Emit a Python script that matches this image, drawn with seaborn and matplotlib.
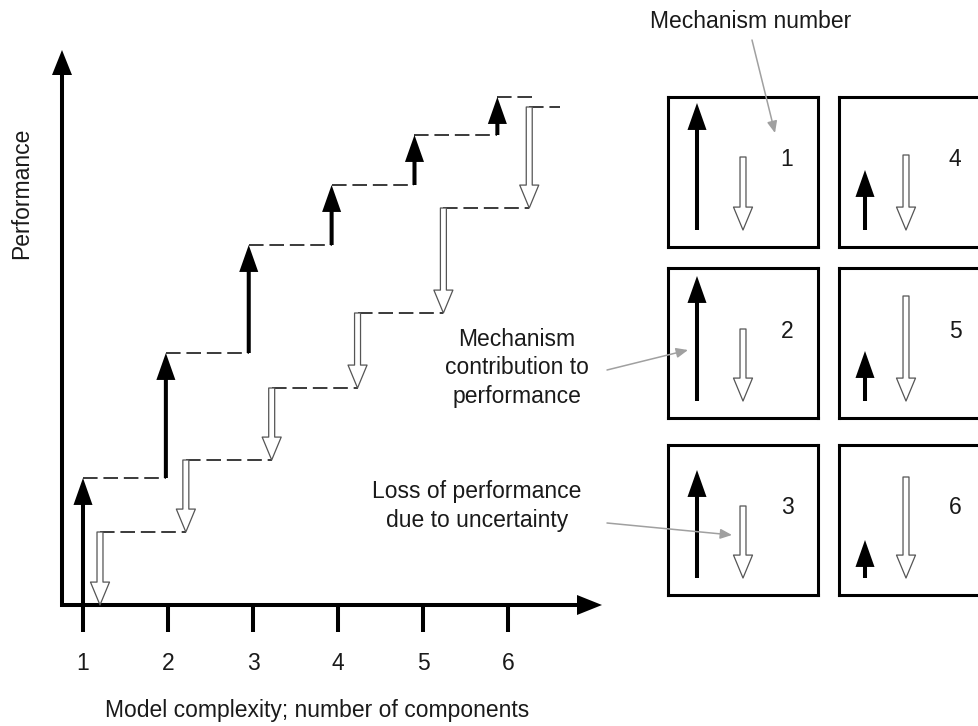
import numpy as np
import pandas as pd
import seaborn as sns
import matplotlib
matplotlib.use("Agg")
import matplotlib.pyplot as plt
from matplotlib.patches import FancyArrowPatch, ArrowStyle

# ---------------- data ----------------
components = [1, 2, 3, 4, 5, 6]
tick_labels = ["1", "2", "3", "4", "5", "6"]
gain = [1.27, 1.25, 1.08, 0.60, 0.50, 0.38]   # mechanism contribution to performance
loss = [0.73, 0.72, 0.72, 0.75, 1.05, 1.01]   # loss of performance due to uncertainty
mechanisms = [1, 2, 3, 4, 5, 6]

# ---------------- style ----------------
sns.set_theme(style="white")
plt.rcParams["font.family"] = ["Liberation Sans", "DejaVu Sans"]
FS = 16.5
TXT = "#1a1a1a"
W, H = 979, 726
fig = plt.figure(figsize=(W / 100, H / 100), dpi=100)


def rect(l, t, w, h):
    return [l / W, 1 - (t + h) / H, w / W, h / H]


BLACK = ArrowStyle.Simple(head_length=19.4, head_width=13.7, tail_width=2.9)
WHITE = ArrowStyle.Simple(head_length=16.5, head_width=13.7, tail_width=4.3)
AXIS = ArrowStyle.Simple(head_length=18.0, head_width=14.4, tail_width=2.9)


def arrow(ax, p0, p1, style, fc, ec="none", lw=0.0, z=3):
    ax.add_patch(FancyArrowPatch(p0, p1, arrowstyle=style, mutation_scale=1,
                                 fc=fc, ec=ec, lw=lw, shrinkA=0, shrinkB=0,
                                 clip_on=False, zorder=z))


# ---------------- main staircase chart ----------------
ax = fig.add_axes(rect(62, 50, 540, 555))
comp = np.array(components, dtype=float)
bx = comp - 0.025 * (comp - 1)
wx = comp + 0.2 + 0.01 * (comp - 1)
lev_b = np.cumsum(gain)
lev_w = np.cumsum(loss)
prev_b = np.concatenate([[0], lev_b[:-1]])
prev_w = np.concatenate([[0], lev_w[:-1]])

rows = []
b_end = list(bx[1:]) + [bx[-1] + 0.445]
w_end = list(wx[1:]) + [wx[-1] + 0.36]
for i in range(len(components)):
    rows += [dict(seg=f"b{i}", x=bx[i], y=lev_b[i]), dict(seg=f"b{i}", x=b_end[i], y=lev_b[i])]
    rows += [dict(seg=f"w{i}", x=wx[i], y=lev_w[i]), dict(seg=f"w{i}", x=w_end[i], y=lev_w[i])]
df = pd.DataFrame(rows)
sns.lineplot(data=df, x="x", y="y", units="seg", estimator=None, sort=False,
             color="#3a3a3a", lw=1.4, ax=ax, legend=False)
for ln in ax.lines:
    ln.set_linestyle((0, (7.5, 3.0)))
    ln.set_zorder(2)

ax.set_xlim(0.753, 7.106)
ax.set_ylim(0, 5.55)
ax.axis("off")

# axes arrows
arrow(ax, (0.753, -0.02), (0.753, 5.55), AXIS, "black")
arrow(ax, (0.73, 0), (7.106, 0), AXIS, "black")
ax.vlines(components, -0.27, 0, colors="black", lw=2.9, clip_on=False)
for c, lab in zip(components, tick_labels):
    ax.text(c, -0.58, lab, ha="center", va="center", fontsize=FS, color=TXT)

for i in range(len(components)):
    arrow(ax, (bx[i], prev_b[i]), (bx[i], lev_b[i]), BLACK, "black", z=4)
    arrow(ax, (wx[i], lev_w[i]), (wx[i], prev_w[i]), WHITE, "white", ec="#555555", lw=0.9, z=4)

fig.text(22 / W, 1 - 193 / H, "Performance", rotation=90, ha="center", va="center",
         fontsize=FS, color=TXT)
fig.text(317 / W, 1 - 711 / H, "Model complexity; number of components",
         ha="center", va="center", fontsize=FS, color=TXT)

# ---------------- mechanism boxes ----------------
col_left = [668, 839]
row_top = [97, 268, 445]
black_bx = [0.29, 0.26]
white_bx = [0.75, 0.67]
num_x = [1.19, 1.16]
for i, m in enumerate(mechanisms):
    col, row = i // 3, i % 3
    bax = fig.add_axes(rect(col_left[col], row_top[row], 150, 150))
    bax.set_xlim(0, 1.5)
    bax.set_ylim(-0.17, 1.33)
    bax.set_xticks([])
    bax.set_yticks([])
    for s in bax.spines.values():
        s.set_visible(True)
        s.set_color("black")
        s.set_linewidth(2.2)
    arrow(bax, (black_bx[col], 0), (black_bx[col], gain[i]), BLACK, "black")
    arrow(bax, (white_bx[col], loss[i]), (white_bx[col], 0), WHITE, "white", ec="#555555", lw=0.9)
    bax.text(num_x[col], 0.70, str(m), ha="center", va="center", fontsize=FS, color=TXT)

# ---------------- annotations ----------------
fig.text(751 / W, 1 - 22 / H, "Mechanism number", ha="center", va="center", fontsize=FS, color=TXT)
fig.text(517 / W, 1 - 368 / H, "Mechanism\ncontribution to\nperformance", ha="center",
         va="center", fontsize=FS, color=TXT, linespacing=1.3)
fig.text(477 / W, 1 - 506 / H, "Loss of performance\ndue to uncertainty", ha="center",
         va="center", fontsize=FS, color=TXT, linespacing=1.3)

GRAY = ArrowStyle("-|>", head_length=7, head_width=3)
for (x0, y0), (x1, y1) in [((752, 40), (775, 133)), ((607, 370), (688, 350)), ((607, 523), (732, 535))]:
    fig.add_artist(FancyArrowPatch((x0 / W, 1 - y0 / H), (x1 / W, 1 - y1 / H),
                                   transform=fig.transFigure, arrowstyle=GRAY,
                                   mutation_scale=1, color="#a0a0a0", lw=1.1,
                                   shrinkA=0, shrinkB=0, zorder=10))

fig.savefig("out.png", dpi=100, facecolor="white")
